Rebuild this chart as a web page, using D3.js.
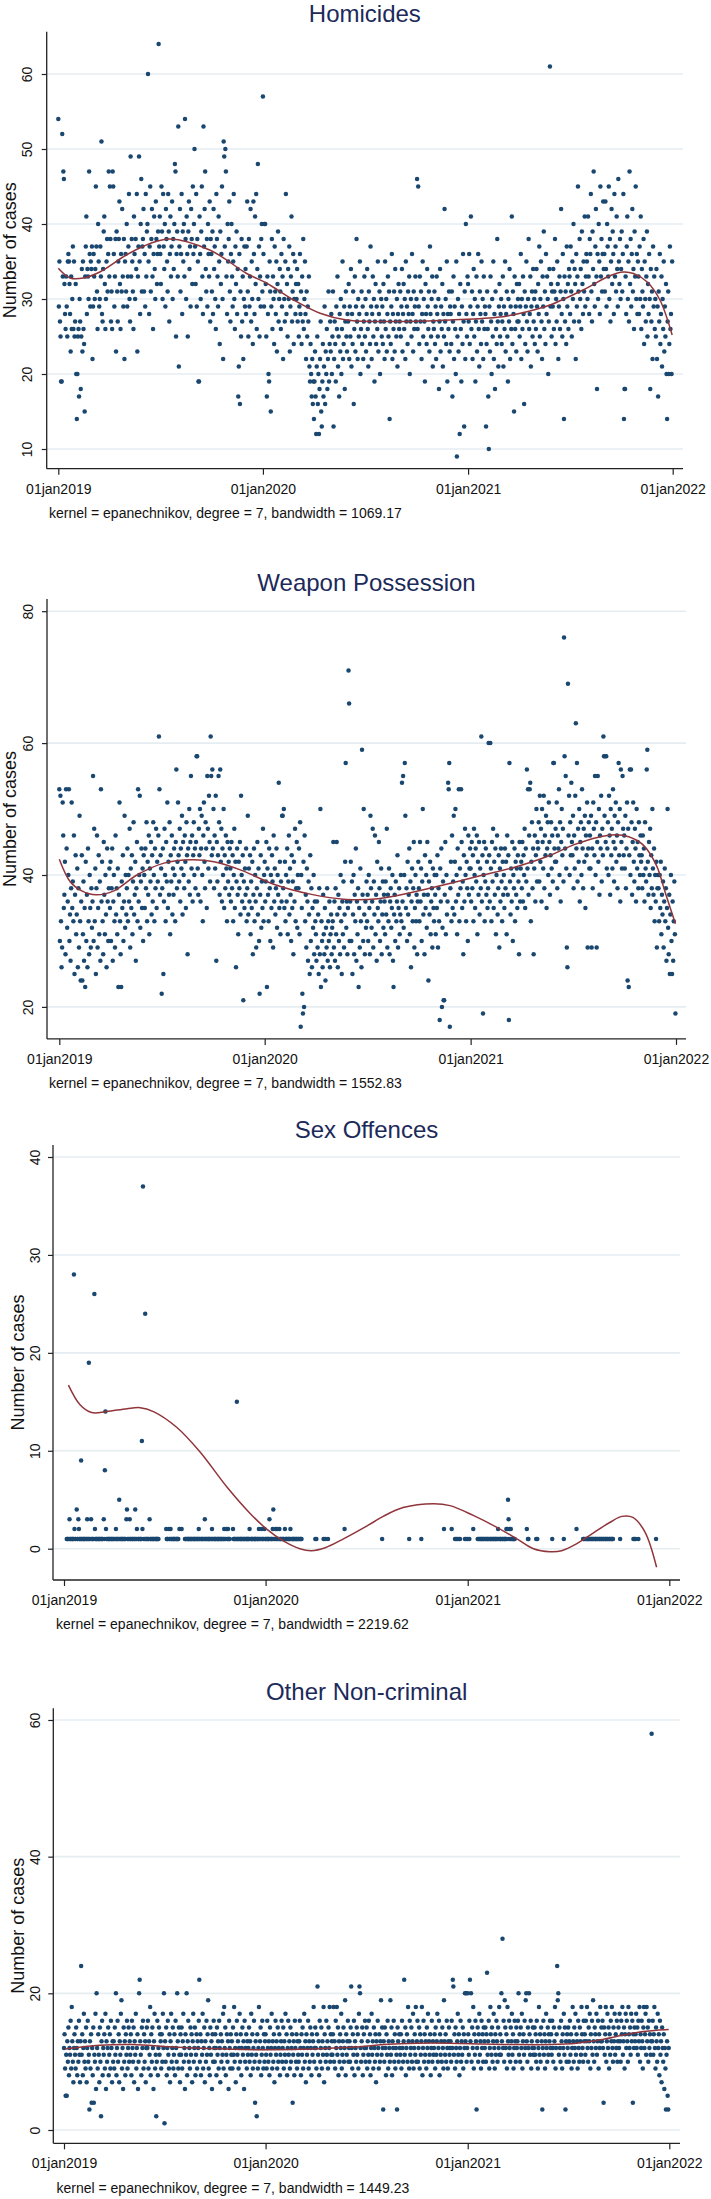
<!DOCTYPE html>
<html><head><meta charset="utf-8">
<script src="https://cdn.jsdelivr.net/npm/d3@7"></script>
<style>body{margin:0;background:#fff}svg{display:block}text{font-family:"Liberation Sans",Arial,sans-serif}</style>
</head><body><svg id="c" width="711" height="2199"></svg>
<script>
// ---------- DATA (daily counts, day 0 = 01jan2019) ----------
const panelTitles = ["Homicides","Weapon Possession","Sex Offences","Other Non-criminal"];
const bandwidths = ["1069.17","1552.83","2219.62","1449.23"];
const tickYears = [2019,2020,2021,2022];
const yTicksHom = [10,20,30,40,50,60];
const yTicksWeap = [20,40,60,80];
const yTicksSex = [0,10,20,30,40];
const yTicksOther = [0,20,40,60];

const homicides2019 = [
54,29,35,27,25,19,19,52,33,47,46,32,28,26,33,29,25,35,36,35,32,28,23,33,26,30,37,26,35,25,27,
32,20,14,20,25,26,17,30,27,18,25,34,23,35,26,24,15,33,37,41,28,34,33,30,47,36,29,35,
34,37,22,29,36,33,30,34,45,37,31,26,40,35,29,30,37,33,51,28,27,34,39,41,32,26,30,35,38,31,36,
47,33,45,38,27,31,26,47,45,36,29,33,38,23,39,31,27,35,38,43,32,26,36,31,42,33,29,38,22,35,
36,31,40,29,33,37,44,30,27,49,33,38,35,31,26,41,36,30,38,34,44,23,33,37,49,35,28,40,46,31,37,
38,42,31,36,29,44,33,39,40,60,35,28,37,45,31,38,42,33,26,36,41,34,30,43,38,32,36,39,64,37,
41,36,32,45,39,30,44,37,34,40,29,42,38,35,31,44,39,27,36,41,33,37,43,30,38,34,40,48,47,25,36,
39,33,53,21,37,42,31,36,44,28,39,35,40,33,54,38,30,41,36,25,39,43,34,37,29,42,38,32,45,36,40,
50,37,32,44,29,38,35,19,19,41,36,30,39,45,33,28,53,37,42,47,34,31,38,29,40,36,33,43,27,38,
36,31,39,28,42,34,37,30,26,44,38,33,29,41,35,24,39,32,36,45,30,22,51,49,37,50,47,33,28,40,35,
38,43,31,27,36,40,33,29,35,44,30,26,37,32,39,28,34,17,21,36,16,31,25,38,27,33,22,30,37,29,
34,28,37,43,31,25,38,29,33,42,27,35,30,24,43,36,28,41,32,44,26,34,48,30,37,25,33,29,38,40,31];
const homicides2020 = [
57,36,29,40,40,32,25,17,33,28,20,19,35,31,15,29,38,26,33,30,24,37,31,28,35,23,32,39,27,30,34,
31,26,36,29,33,22,38,30,27,35,44,28,32,25,34,30,37,23,29,33,41,27,31,36,24,30,35,28,32,
30,34,27,32,25,29,36,28,31,24,33,27,38,26,30,35,28,22,31,25,29,27,33,21,19,24,20,17,22,16,19,
14,19,23,17,12,21,25,16,20,12,18,22,27,15,13,19,24,17,21,29,16,23,20,26,18,22,31,19,24,27,
23,28,20,25,31,13,22,27,24,19,29,26,33,21,25,17,28,23,30,20,26,35,22,24,29,18,27,31,25,23,28,
27,32,22,29,25,34,21,28,24,31,16,26,33,23,29,38,27,22,30,25,28,35,20,26,31,24,29,22,27,33,
25,30,23,28,34,26,21,31,27,24,37,29,22,28,33,25,30,19,27,32,24,29,26,35,23,28,31,20,27,30,25,
29,24,32,27,22,35,26,30,23,28,33,25,31,14,27,24,29,36,22,28,26,31,23,34,27,25,30,21,28,32,26,
27,31,25,29,34,23,28,32,26,30,22,35,27,29,24,31,28,33,20,27,30,25,36,28,23,31,26,29,33,27,
30,46,26,45,29,24,33,27,31,22,28,35,25,30,27,19,32,28,24,34,29,26,31,23,37,28,25,30,33,21,27,
26,31,24,29,22,33,28,25,30,18,27,34,23,29,26,32,21,28,25,42,27,30,24,35,19,28,26,31,23,29,
28,24,31,17,27,33,22,29,26,20,35,9,25,30,23,28,12,32,26,19,29,24,36,27,13,31,22,40,28,25,33];
const homicides2021 = [
32,27,36,24,29,41,26,31,22,28,34,25,30,19,27,33,23,29,36,26,21,31,28,24,35,27,30,22,33,26,29,
28,13,24,31,26,17,10,29,23,33,27,20,30,25,35,22,28,18,31,26,24,38,27,21,29,32,25,28,
30,24,27,33,21,29,26,35,23,28,31,25,19,30,27,34,22,29,26,41,24,31,28,15,33,26,29,23,32,27,30,
27,32,25,29,36,22,30,26,33,28,16,31,24,29,35,27,23,30,38,26,28,33,21,29,31,25,34,27,30,24,
31,26,34,29,23,32,28,37,25,30,35,27,22,33,29,39,26,31,24,36,28,33,30,20,27,34,61,29,32,25,31,
29,34,26,31,38,24,30,27,35,32,22,29,33,26,31,42,28,25,36,30,14,33,27,31,24,37,29,32,26,34,
33,28,37,31,25,35,30,40,27,34,32,22,36,29,33,45,31,27,38,30,34,26,39,32,28,35,31,41,29,33,36,
35,30,41,33,28,38,36,44,31,27,39,34,47,32,29,37,42,33,18,36,30,40,35,28,45,33,38,31,36,43,34,
36,31,43,34,29,40,37,33,45,30,38,27,35,42,32,39,36,28,44,33,37,31,41,34,29,46,35,32,38,30,
34,39,31,36,44,14,18,18,33,28,37,41,30,35,27,47,32,38,29,36,42,31,34,26,39,33,45,30,36,28,35,
33,28,37,30,41,26,34,31,29,38,24,35,30,27,33,39,25,32,28,36,30,18,34,27,31,22,37,29,33,26,
30,25,34,22,29,17,31,27,36,24,28,33,21,30,26,35,23,29,25,32,20,14,27,31,20,24,37,26,28,20,35];

const weapon2019 = [
53,30,52,33,26,29,51,46,35,37,42,28,53,44,32,36,40,53,30,34,27,38,51,35,39,33,46,25,37,43,31,
34,41,26,38,29,49,33,24,36,43,24,31,39,27,35,23,42,30,37,26,44,33,28,40,35,29,38,32,
36,55,30,47,33,41,25,38,46,29,35,43,31,39,27,53,36,42,33,28,45,37,31,40,34,26,44,36,30,38,41,
35,42,30,38,44,27,36,40,33,29,46,34,38,31,41,23,37,51,33,28,23,39,35,43,30,36,49,32,40,34,
38,44,33,40,36,47,29,41,35,43,31,39,48,34,37,42,27,38,45,33,53,36,40,52,32,39,44,35,41,30,43,
40,35,44,38,48,33,42,37,46,31,41,39,45,34,43,36,48,40,33,44,38,47,35,42,39,46,61,53,37,43,
41,22,38,44,25,36,47,40,33,45,39,51,35,42,37,48,31,43,39,46,34,41,37,44,40,33,45,56,38,42,51,
43,39,47,36,44,41,49,34,45,40,38,46,42,35,48,43,28,44,39,50,37,45,55,41,46,36,43,48,40,44,38,
45,58,58,41,37,47,43,50,36,44,49,40,33,46,51,42,38,48,44,35,55,47,41,52,45,39,61,55,43,56,
44,50,38,46,41,52,27,45,39,43,55,48,37,56,42,47,36,44,40,50,35,43,38,46,41,33,45,39,42,37,44,
41,36,45,38,43,33,40,47,35,42,26,39,44,37,31,42,38,45,34,52,40,36,43,21,39,35,41,37,44,33,
38,49,34,41,36,43,31,39,35,42,28,37,44,33,40,36,29,38,45,34,41,30,22,37,43,32,39,35,47,33,40];
const weapon2020 = [
42,36,39,45,23,41,37,33,44,38,30,40,35,43,39,29,46,36,41,34,38,44,32,40,37,54,35,42,31,39,36,
49,49,38,50,35,42,33,40,36,44,31,39,46,34,41,37,30,43,35,39,28,42,36,47,33,38,45,32,40,
38,44,31,48,17,40,35,22,19,42,20,46,33,37,29,41,36,27,39,34,25,43,30,38,26,35,32,40,28,36,33,
31,27,36,29,34,25,38,28,50,23,33,30,26,37,31,28,35,24,32,29,38,27,33,30,36,26,31,34,28,32,
33,45,29,36,27,38,31,45,34,26,37,30,35,28,40,33,25,36,31,39,29,34,42,57,32,36,28,35,71,66,30,
36,42,30,39,25,34,40,28,37,33,44,27,36,31,38,23,35,29,41,33,26,59,37,30,50,34,28,36,32,39,
33,37,30,40,35,28,49,38,32,36,47,29,39,34,46,31,37,27,42,35,33,45,38,30,36,41,28,34,39,32,37,
36,31,39,34,47,29,37,33,41,28,36,38,32,35,40,27,23,34,37,30,39,33,36,43,29,35,38,31,34,40,33,
54,36,55,32,40,57,49,35,38,30,42,34,37,44,31,39,26,36,41,33,38,45,29,35,40,33,37,28,36,42,
38,33,45,36,41,30,39,50,34,37,28,43,35,40,32,45,37,24,39,34,42,31,36,38,29,41,35,33,40,37,31,
40,35,43,29,38,33,18,41,36,44,20,32,39,21,21,37,45,31,40,34,36,54,53,57,17,38,42,33,46,35,
39,49,34,42,50,36,40,31,44,37,53,33,41,38,53,45,35,39,28,43,36,47,40,33,42,38,30,46,37,41,44];
const weapon2021 = [
41,36,45,38,43,33,47,40,35,44,39,46,31,42,37,45,34,41,38,61,36,43,19,40,45,33,39,44,37,42,35,
38,60,43,36,60,41,33,45,39,47,35,42,37,44,31,40,46,34,38,43,29,41,36,44,39,33,42,37,
40,35,44,38,42,31,46,37,43,18,57,39,34,41,36,45,30,40,38,44,33,42,37,41,35,43,39,28,45,36,41,
42,38,45,36,43,40,47,35,44,39,56,41,53,37,46,53,54,33,42,48,38,44,28,41,46,36,43,50,39,45,
44,48,39,52,42,47,36,50,45,41,52,38,46,43,49,35,44,48,40,51,45,37,43,48,41,46,39,57,57,44,42,
47,42,51,38,46,44,53,40,48,36,45,50,43,47,39,76,58,44,55,41,29,26,69,46,52,40,48,43,54,45,
43,49,38,46,41,52,63,44,57,39,47,42,50,36,45,48,40,53,44,38,47,42,49,35,46,43,51,29,44,48,41,
46,41,49,29,44,38,51,47,43,55,40,48,29,45,55,42,50,37,46,44,52,39,47,43,61,58,49,58,45,58,41,
44,48,40,52,46,37,50,43,47,41,53,45,39,49,44,51,42,46,38,48,57,43,50,36,56,45,41,55,47,43,
46,41,49,38,44,51,24,47,23,43,56,40,56,48,37,45,51,42,39,47,44,36,50,41,45,38,48,43,40,46,42,
43,38,46,40,44,36,48,41,39,56,59,42,37,45,40,47,35,43,38,50,41,37,44,33,40,36,42,29,38,40,
38,33,40,35,42,31,37,34,39,29,36,41,33,38,27,35,50,32,28,37,25,34,40,30,25,36,27,33,39,31,19];

const sex2019 = [
0,0,0,0,0,1,1,1,0,1,3,1,1,0,1,1,1,1,28,2,1,1,0,4,1,1,3,2,1,1,1,
9,1,1,0,1,1,1,1,0,1,1,3,1,1,19,1,1,0,3,1,1,1,0,1,26,2,1,1,
1,1,0,1,1,1,1,0,1,1,1,1,0,3,1,8,14,2,1,1,0,1,1,1,1,0,1,1,1,1,0,
1,1,0,1,2,1,1,1,0,1,5,1,1,0,1,1,1,1,0,1,1,1,0,3,4,1,1,0,1,3,
1,1,0,1,1,1,0,1,1,4,1,1,2,0,1,1,1,0,1,1,1,11,2,37,1,0,1,24,1,1,0,
1,1,1,0,3,1,1,1,0,1,1,1,1,0,1,1,1,1,1,1,1,0,0,0,0,0,0,0,0,0,
0,0,0,0,2,1,1,1,0,2,1,1,2,1,1,0,1,1,1,1,1,0,1,1,1,1,1,0,2,0,0,
0,2,0,0,0,0,0,1,1,1,0,1,1,1,1,1,0,1,1,1,1,0,1,1,1,1,1,0,1,1,1,
1,2,1,1,0,1,1,1,1,0,1,1,3,1,1,1,0,1,1,1,1,1,0,1,1,2,1,1,0,1,
1,1,1,0,1,1,1,1,1,0,1,1,1,1,0,1,1,2,1,1,0,2,1,1,2,1,1,1,0,0,0,
0,0,2,1,1,1,0,1,1,15,1,1,1,0,1,1,1,1,1,0,1,1,1,1,0,1,1,1,1,1,
1,1,2,1,0,1,1,1,1,0,1,1,1,1,1,0,1,1,1,2,1,1,0,1,2,1,1,1,0,2,1];
const sex2020 = [
1,1,0,1,1,1,1,3,1,0,1,1,1,2,4,1,1,0,2,1,1,2,1,0,1,2,1,1,1,0,1,
1,1,1,0,2,1,1,1,1,0,1,1,1,1,2,1,0,1,1,1,1,1,0,1,1,1,1,0,1,
1,1,0,1,1,1,0,0,0,0,0,0,0,0,0,0,0,0,0,0,0,0,0,0,0,0,0,0,0,0,1,
0,1,0,0,0,0,0,0,0,0,0,0,0,0,1,0,0,1,0,0,0,0,1,0,0,0,0,0,0,0,
0,0,0,0,0,0,0,0,0,0,0,0,0,0,0,0,0,0,0,0,0,0,2,0,0,0,0,0,0,0,0,
0,0,0,0,0,0,0,0,0,0,0,0,0,0,0,0,0,0,0,0,0,0,0,0,0,0,0,0,0,0,
0,0,0,0,0,0,0,0,0,0,0,0,0,0,0,0,0,0,0,0,0,0,0,0,0,0,0,0,0,1,0,
0,0,0,0,0,0,0,0,0,0,0,0,0,0,0,0,0,0,0,0,0,0,0,0,0,0,0,0,0,0,0,
0,0,0,0,0,0,0,0,0,0,0,0,0,0,0,0,1,0,0,0,0,0,0,0,0,0,0,0,0,0,
0,0,0,0,0,0,0,0,1,0,0,0,0,0,0,0,0,0,0,0,0,0,0,0,0,0,0,0,0,0,0,
0,0,0,0,0,0,0,0,0,0,0,0,0,0,0,0,0,0,2,0,0,0,0,0,0,0,0,0,0,0,
0,0,2,0,0,0,0,0,1,0,1,0,1,0,0,1,0,1,0,0,0,0,0,0,0,0,1,0,1,0,0];
const sex2021 = [
1,0,0,1,0,0,0,0,0,0,2,0,0,0,0,0,0,0,1,0,1,1,0,1,1,1,0,1,1,1,0,
1,1,0,1,1,1,0,1,1,0,1,1,1,0,1,1,1,0,1,1,1,1,0,1,2,1,0,1,
1,1,0,1,1,1,0,1,1,1,1,2,1,2,5,3,1,2,1,2,1,0,1,1,1,1,1,0,0,0,0,
0,0,0,0,0,0,0,0,0,0,0,0,0,0,0,0,0,2,0,1,1,0,0,0,0,0,0,0,0,0,
0,0,0,0,1,0,1,0,0,0,0,0,0,0,0,0,0,0,0,0,0,0,0,0,0,0,0,0,0,0,0,
0,0,1,0,0,0,0,0,0,0,0,0,0,0,0,0,0,0,0,0,0,0,0,1,0,0,0,0,0,0,
0,0,0,0,0,0,0,0,0,0,0,0,0,0,0,0,2,0,0,0,0,0,0,0,0,0,0,0,1,1,0,
1,0,1,1,0,1,1,1,0,1,1,0,1,1,1,0,1,1,0,1,1,1,0,1,1,0,1,1,1,0,1,
1,1,0,1,1,0,1,1,1,0,1,1,0,1,1,1,0,1,1,1,1,0,0,0,0,0,0,0,0,0,
0,0,0,1,0,0,0,0,0,0,0,0,0,0,0,0,0,0,0,0,0,0,0,0,0,0,0,1,0,1,0,
1,0,0,0,0,1,0,0,0,0,0,0,0,0,0,0,0,0,0,0,0,0,0,0,0,0,0,0,0,0,
0,0,0,0,0,0,0,1,0,0,0,0,0,0,0,0,0,0,0,0,0,0,0,0,0,0,0,0,0,0,0];

const other2019 = [
12,14,9,5,11,5,13,10,15,8,12,11,16,9,18,13,10,7,12,14,11,9,15,12,8,13,10,16,11,7,13,
24,11,14,8,12,17,10,13,9,15,7,12,16,10,11,3,13,9,14,4,12,8,15,4,11,10,17,6,
20,12,9,14,11,7,15,10,2,13,16,8,12,11,14,9,17,6,13,10,12,15,8,11,14,9,16,12,7,13,10,
13,9,15,11,20,8,12,16,10,14,7,13,11,17,19,9,12,6,15,10,13,8,14,11,16,9,12,15,10,13,
11,14,8,16,12,10,15,7,13,11,17,9,12,14,6,10,20,22,13,11,8,15,12,16,9,14,10,13,7,12,15,
12,16,9,13,11,18,8,14,10,15,12,6,13,17,9,11,2,10,16,8,12,15,11,14,13,9,14,10,17,12,
20,1,13,10,15,8,12,16,11,9,14,7,13,17,10,12,15,9,11,14,8,16,12,10,20,13,9,15,11,7,14,
11,15,9,13,17,10,12,6,14,11,20,8,13,16,10,12,9,15,11,14,7,13,17,10,12,15,8,11,14,9,13,
12,16,22,10,14,8,13,11,17,9,12,15,7,13,10,16,11,14,19,9,12,8,15,11,13,6,14,10,16,12,
10,14,12,8,15,11,13,9,16,12,7,14,10,13,11,17,9,18,12,15,8,11,14,10,13,6,16,12,9,14,11,
13,9,15,11,18,10,12,7,14,16,11,13,9,12,17,10,14,8,12,15,11,13,6,16,10,12,14,9,13,11,
12,15,10,13,8,17,11,14,9,12,16,10,4,13,11,2,14,9,12,18,10,13,15,8,11,16,12,9,14,10,13];
const other2020 = [
14,11,9,16,12,10,13,8,15,11,12,17,9,13,10,14,7,12,16,11,13,9,15,10,12,14,8,11,13,16,10,
12,15,9,13,11,17,10,14,8,12,16,11,13,9,15,10,12,14,4,11,13,8,16,12,10,14,9,13,11,
10,13,16,12,8,14,11,15,9,12,17,10,13,7,14,11,12,16,9,13,10,15,12,8,14,11,13,18,10,12,15,
12,9,14,21,11,13,8,16,10,12,15,9,13,11,18,7,14,12,10,16,11,13,9,15,12,18,10,14,11,13,
11,14,18,10,13,9,16,12,18,11,15,8,13,10,14,12,17,9,11,13,15,10,12,19,8,14,11,13,16,10,12,
13,10,15,21,12,9,14,11,16,8,13,12,10,15,11,14,9,17,21,20,12,10,13,15,8,11,14,12,16,10,
12,15,9,13,11,16,10,14,8,12,17,11,13,9,15,12,10,14,7,13,11,16,12,9,14,10,13,19,11,15,12,
3,13,10,15,12,8,14,11,16,9,13,12,10,19,11,15,8,13,12,16,10,14,9,12,11,3,15,13,10,14,12,
11,14,9,16,12,10,13,22,11,15,8,12,14,10,18,13,9,16,11,12,15,10,13,17,9,12,14,11,18,10,
13,16,10,12,15,9,14,11,13,18,8,12,16,10,14,11,13,9,15,12,17,10,13,11,14,8,12,16,10,13,11,
12,14,9,15,11,13,17,10,12,16,8,14,11,13,10,15,12,9,19,13,11,14,10,16,12,9,13,15,11,12,
13,10,16,12,22,21,11,14,9,15,12,10,13,17,11,14,8,12,16,10,13,11,15,9,14,12,20,13,20,10,12];
const other2021 = [
20,14,11,16,22,13,20,10,15,12,18,9,14,11,16,13,3,12,15,10,14,17,11,13,9,16,12,14,10,15,13,
12,15,10,14,23,11,13,16,9,12,18,14,11,15,10,13,17,12,9,14,11,16,13,10,15,12,18,11,
14,11,20,13,28,12,16,10,19,15,12,14,9,18,13,11,16,12,10,15,13,17,11,14,9,12,16,13,10,15,12,
13,16,20,11,14,10,15,12,17,9,13,14,11,16,12,19,20,13,10,15,12,20,14,11,16,9,13,12,15,11,
12,15,11,14,10,16,13,9,12,18,11,14,10,15,13,3,12,16,11,14,9,13,17,12,10,15,11,14,13,16,12,
14,11,16,12,10,15,13,18,9,12,14,24,19,20,11,15,12,10,16,13,9,14,12,17,11,15,3,13,10,14,
12,15,10,13,16,11,14,9,12,18,13,10,15,12,17,11,14,13,9,16,12,10,15,13,11,18,14,12,10,16,13,
14,11,16,13,18,12,10,15,13,17,9,14,12,16,11,19,13,10,15,14,12,17,11,13,16,9,14,12,18,13,15,
13,16,12,4,15,11,14,18,10,13,17,12,15,9,14,11,16,13,18,12,10,15,13,17,11,14,12,16,10,13,
15,12,17,13,10,16,14,18,11,13,15,9,14,17,12,16,13,10,18,14,12,15,11,17,13,16,4,14,12,15,13,
14,17,12,15,11,16,13,18,10,14,12,16,13,9,15,18,12,14,17,11,18,13,15,10,16,12,14,11,13,58,
13,16,11,14,18,12,9,15,13,10,17,12,14,8,16,11,13,7,15,12,10,14,6,12,9,3,11,13,5,3,12];

// local polynomial smooth, x in days since 01jan2019
const homCurveDays = [0,21,45,74,122,164,199,271,336,372,419,467,514,609,699,788,836,877,936,984,1008,1026,1050,1073,1095];
const homCurveVals = [34.1,32.8,32.8,33.6,35.9,37.4,38.0,36.5,33.4,32.1,29.9,28.1,27.2,27.0,27.2,27.6,28.3,29.2,31.2,33.1,33.6,33.4,32.3,29.9,25.2];
const weapCurveDays = [0,20,40,65,97,138,186,235,275,324,381,446,510,567,624,688,753,802,867,915,956,988,1012,1037,1061,1077,1095];
const weapCurveVals = [42.4,38.9,37.6,37.0,37.6,40.0,41.8,42.3,42.0,40.7,38.6,37.1,36.3,36.4,37.3,38.6,40.0,41.0,42.8,44.6,45.7,46.1,45.8,44.6,41.5,37.3,32.6];
const sexCurveDays = [8,29,50,77,114,138,162,204,246,295,337,367,397,427,448,473,506,548,578,614,669,699,741,783,820,850,880,901,928,958,989,1010,1030,1052,1073];
const sexCurveVals = [16.7,14.7,13.9,14.0,14.3,14.4,14.0,12.4,9.9,6.3,3.6,2.0,0.8,0.0,-0.2,0.1,1.0,2.3,3.3,4.2,4.6,4.4,3.4,2.2,1.0,0.0,-0.3,-0.2,0.5,1.6,2.7,3.3,3.2,1.7,-1.9];
const otherCurveDays = [2,65,125,186,246,307,367,427,488,536,578,639,699,759,820,880,928,971,1013,1049,1073,1095];
const otherCurveVals = [11.85,12.4,12.5,12.2,11.95,11.8,11.75,11.8,12.0,12.2,12.5,12.7,12.7,12.6,12.5,12.5,12.7,13.2,13.9,14.4,14.6,14.7];

// ---------- DRAWING ----------
const start = Date.UTC(2019,0,1);
const dayToDate = d => new Date(start + d*864e5);
const tickDates = tickYears.map(y => new Date(Date.UTC(y,0,1)));
const fmt = d3.utcFormat("%d%b%Y");
const svg = d3.select("#c");

const panels = [
 {title:panelTitles[0], bw:bandwidths[0], values:[...homicides2019,...homicides2020,...homicides2021], cd:homCurveDays, cv:homCurveVals,
  yTicks:yTicksHom, yDom:[10,60], yRange:[449,74], axisX:46.7, top:31.7, bottom:468.7, right:683, x0:58.3, x1:672.7, titleY:14, yTitleX:10, yLabX:27, noteX:49},
 {title:panelTitles[1], bw:bandwidths[1], values:[...weapon2019,...weapon2020,...weapon2021], cd:weapCurveDays, cv:weapCurveVals,
  yTicks:yTicksWeap, yDom:[20,80], yRange:[1006.9,611.2], axisX:47, top:599, bottom:1038.9, right:686, x0:59.3, x1:676, titleY:582.6, yTitleX:10, yLabX:28, noteX:49},
 {title:panelTitles[2], bw:bandwidths[2], values:[...sex2019,...sex2020,...sex2021], cd:sexCurveDays, cv:sexCurveVals,
  yTicks:yTicksSex, yDom:[0,40], yRange:[1548.7,1157], axisX:53, top:1145, bottom:1580, right:680, x0:64, x1:669.3, titleY:1129.3, yTitleX:17.5, yLabX:35, noteX:56, dropZero:true},
 {title:panelTitles[3], bw:bandwidths[3], values:[...other2019,...other2020,...other2021], cd:otherCurveDays, cv:otherCurveVals,
  yTicks:yTicksOther, yDom:[0,60], yRange:[2130,1720], axisX:53.3, top:1708.3, bottom:2143.3, right:680, x0:64, x1:669.3, titleY:1691.7, yTitleX:17.5, yLabX:35, noteX:56.5}
];

const NAVY = "#1a476f", MAROON = "#90353b", GRID = "#e5edf0", TITLE = "#1c2a5a";

panels.forEach(p => {
  const g = svg.append("g");
  const x = d3.scaleUtc().domain([dayToDate(0), dayToDate(1096)]).range([p.x0, p.x1]);
  const y = d3.scaleLinear().domain(p.yDom).range(p.yRange);

  g.append("g").selectAll("line").data(p.yTicks).join("line")
    .attr("x1", p.axisX).attr("x2", p.right)
    .attr("y1", d => y(d)).attr("y2", d => y(d))
    .attr("stroke", GRID).attr("stroke-width", 1.6);

  let pts = p.values.map((v,i) => ({date: dayToDate(i), v}));
  if (p.dropZero) pts = pts.filter(o => o.v > 0);
  g.append("g").selectAll("circle").data(pts).join("circle")
    .attr("cx", d => x(d.date)).attr("cy", d => y(d.v)).attr("r", 2.25)
    .attr("fill", NAVY);

  const line = d3.line().x(d => x(dayToDate(d))).y((d,i) => y(p.cv[i])).curve(d3.curveCatmullRom.alpha(0.5));
  g.append("path").datum(p.cd).attr("d", line)
    .attr("fill","none").attr("stroke", MAROON).attr("stroke-width", 1.5);

  const xa = d3.axisBottom(x).tickValues(tickDates).tickFormat(d => fmt(d).toLowerCase()).tickSize(6).tickSizeOuter(0);
  const gx = g.append("g").attr("transform", `translate(0,${p.bottom})`).call(xa);
  gx.select(".domain").remove();
  gx.selectAll(".tick line").attr("stroke","#222").attr("stroke-width",1.2);
  gx.selectAll(".tick text").attr("y", 20).attr("dy","0.35em").attr("font-size",14)
    .attr("font-family","Liberation Sans, Arial, sans-serif").attr("fill","#111");
  g.append("line").attr("x1", p.axisX).attr("x2", p.right).attr("y1", p.bottom).attr("y2", p.bottom)
    .attr("stroke","#222").attr("stroke-width",1.3);

  const ya = d3.axisLeft(y).tickValues(p.yTicks).tickSize(5).tickSizeOuter(0);
  const gy = g.append("g").attr("transform", `translate(${p.axisX},0)`).call(ya);
  gy.select(".domain").remove();
  gy.selectAll(".tick line").attr("stroke","#222").attr("stroke-width",1.2);
  gy.selectAll(".tick text").attr("x",0).attr("dy","0.35em").attr("text-anchor","middle")
    .attr("transform", `translate(${p.yLabX - p.axisX},0) rotate(-90)`)
    .attr("font-size",14).attr("font-family","Liberation Sans, Arial, sans-serif").attr("fill","#111");
  g.append("line").attr("x1", p.axisX).attr("x2", p.axisX).attr("y1", p.top).attr("y2", p.bottom)
    .attr("stroke","#222").attr("stroke-width",1.3);

  g.append("text").attr("x", (p.axisX + p.right)/2).attr("y", p.titleY).attr("dy","0.35em")
    .attr("text-anchor","middle").attr("font-size",24).attr("fill",TITLE).text(p.title);
  g.append("text").attr("transform", `translate(${p.yTitleX},${(p.top+p.bottom)/2}) rotate(-90)`)
    .attr("dy","0.35em").attr("text-anchor","middle").attr("font-size",18).attr("fill","#111").text("Number of cases");
  g.append("text").attr("x", p.noteX).attr("y", p.bottom + 44.5).attr("dy","0.35em")
    .attr("font-size",14).attr("fill","#111")
    .text(`kernel = epanechnikov, degree = 7, bandwidth = ${p.bw}`);
});
</script></body></html>
